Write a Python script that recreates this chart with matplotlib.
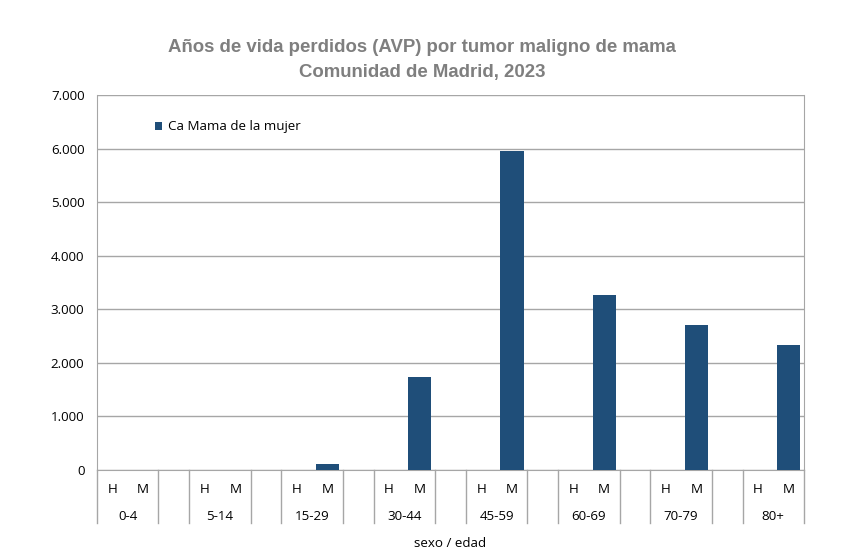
import matplotlib
matplotlib.use('Agg')
import matplotlib.pyplot as plt
import matplotlib.transforms as mtransforms
from matplotlib.ticker import FuncFormatter

# Datos
grupos = ['0-4', '5-14', '15-29', '30-44', '45-59', '60-69', '70-79', '80+']
sexos = ['H', 'M']
avp_hombres = [0, 0, 0, 0, 0, 0, 0, 0]
avp_mujeres = [0, 0, 112, 1736, 5955, 3265, 2707, 2335]

color_barra = '#1F4E79'
gris = '#A6A6A6'

plt.rcParams['font.family'] = ['Open Sans', 'DejaVu Sans']
fs = 9.6

fig = plt.figure(figsize=(8.54, 5.58), dpi=100)
ax = fig.add_axes([97/854, 1 - 470/558, (804 - 97)/854, (470 - 95)/558])

# posiciones: H, M, hueco por cada grupo
pos_h = [3*i for i in range(len(grupos))]
pos_m = [3*i + 1 for i in range(len(grupos))]

ax.bar(pos_h, avp_hombres, width=0.75, color=color_barra)
ax.bar(pos_m, avp_mujeres, width=0.75, color=color_barra, label='Ca Mama de la mujer', zorder=3)

ax.set_xlim(-0.5, 3*len(grupos) - 1.5)
ax.set_ylim(0, 7000)
ax.set_yticks(range(0, 7001, 1000))
ax.yaxis.set_major_formatter(FuncFormatter(lambda v, p: f'{int(v):,}'.replace(',', '.')))
ax.tick_params(axis='y', length=0, pad=9, labelsize=fs, colors='black')
ax.set_xticks([])
ax.grid(axis='y', color=gris, linewidth=1, zorder=0)
ax.set_axisbelow(True)
for s in ['left', 'right', 'bottom']:
    ax.spines[s].set_color(gris)
ax.spines['top'].set_visible(False)

# etiquetas de categorias y separadores
trans = mtransforms.blended_transform_factory(ax.transData, ax.transAxes)
for i, g in enumerate(grupos):
    ax.text(pos_h[i], -0.053, sexos[0], transform=trans, ha='center', va='center', fontsize=fs)
    ax.text(pos_m[i], -0.053, sexos[1], transform=trans, ha='center', va='center', fontsize=fs)
    ax.text(3*i + 0.5, -0.123, g, transform=trans, ha='center', va='center', fontsize=fs)
    for xs in [3*i - 0.5, 3*i + 1.5]:
        ax.plot([xs, xs], [0, -0.142], transform=trans, color=gris, linewidth=1, clip_on=False)

ax.text(0.5, -0.197, 'sexo / edad', transform=ax.transAxes, ha='center', va='center', fontsize=fs)

ax.legend(loc='center left', bbox_to_anchor=(0.065, 0.915), frameon=False, fontsize=fs,
          handlelength=0.55, handleheight=0.55, handletextpad=0.4)

fig.text(0.494, 1 - 47/558, 'Años de vida perdidos (AVP) por tumor maligno de mama',
         ha='center', va='center', fontsize=13.4, fontweight='bold', color='#7F7F7F',
         family=['Liberation Sans', 'DejaVu Sans'])
fig.text(0.494, 1 - 72/558, 'Comunidad de Madrid, 2023',
         ha='center', va='center', fontsize=13.4, fontweight='bold', color='#7F7F7F',
         family=['Liberation Sans', 'DejaVu Sans'])

fig.savefig('out.png', dpi=100)
